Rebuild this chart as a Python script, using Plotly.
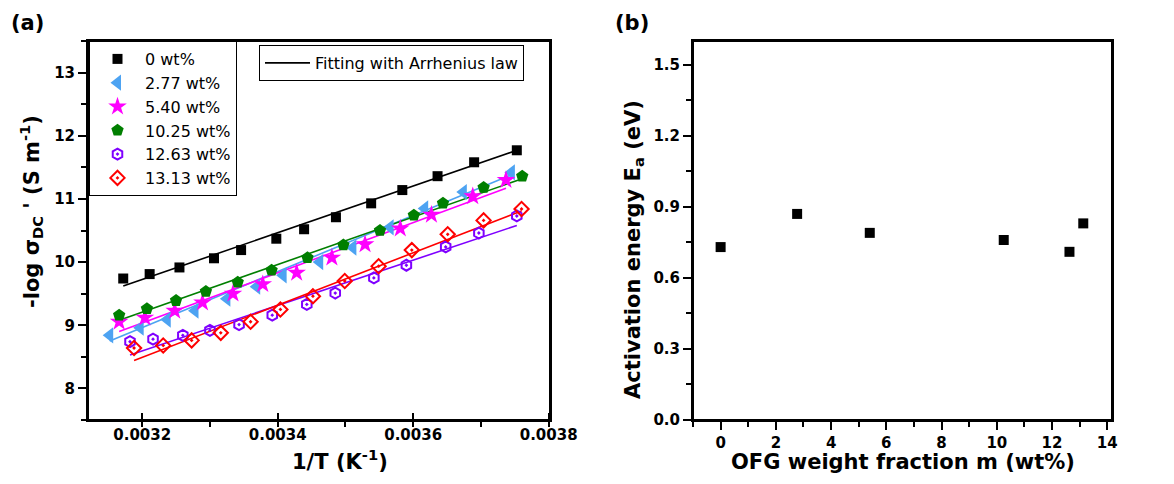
import plotly.graph_objects as go

# ---------------- data: panel (a) ----------------
labels = ["0 wt%", "2.77 wt%", "5.40 wt%", "10.25 wt%", "12.63 wt%", "13.13 wt%"]

invT_0 = [0.003172, 0.003211, 0.003255, 0.003306, 0.003346, 0.003398, 0.003439,
          0.003486, 0.003538, 0.003584, 0.003636, 0.003690, 0.003753]
sig_0 = [9.74, 9.81, 9.915, 10.06, 10.19, 10.37, 10.52, 10.71, 10.93, 11.14, 11.36, 11.58, 11.77]

invT_277 = [0.003152, 0.003197, 0.003237, 0.003278, 0.003325, 0.003369, 0.003408,
            0.003462, 0.003511, 0.003566, 0.003617, 0.003674, 0.003745]
sig_277 = [8.84, 8.96, 9.09, 9.23, 9.42, 9.61, 9.79, 10.0, 10.23, 10.55, 10.85, 11.11, 11.42]

invT_540 = [0.003166, 0.003204, 0.003248, 0.003289, 0.003334, 0.003378, 0.003428,
            0.003480, 0.003529, 0.003581, 0.003627, 0.003688, 0.003737]
sig_540 = [9.055, 9.12, 9.23, 9.36, 9.50, 9.65, 9.83, 10.07, 10.28, 10.53, 10.75, 11.04, 11.30]

invT_1025 = [0.003166, 0.003207, 0.003250, 0.003294, 0.003341, 0.003391, 0.003444,
             0.003497, 0.003551, 0.003601, 0.003644, 0.003704, 0.003761]
sig_1025 = [9.16, 9.26, 9.39, 9.535, 9.68, 9.87, 10.07, 10.27, 10.50, 10.74, 10.93, 11.18, 11.36]

invT_1263 = [0.003182, 0.003216, 0.003260, 0.003300, 0.003343, 0.003392, 0.003443,
             0.003485, 0.003542, 0.003590, 0.003648, 0.003697, 0.003753]
sig_1263 = [8.74, 8.78, 8.84, 8.92, 9.01, 9.16, 9.33, 9.51, 9.75, 9.95, 10.24, 10.46, 10.73]

invT_1313 = [0.003188, 0.003231, 0.003273, 0.003316, 0.003360, 0.003404, 0.003452,
             0.003499, 0.003549, 0.003598, 0.003651, 0.003704, 0.003760]
sig_1313 = [8.64, 8.68, 8.76, 8.88, 9.055, 9.25, 9.46, 9.70, 9.935, 10.19, 10.44, 10.66, 10.84]

# Arrhenius fit lines (start / end points)
fit_x_start = [0.003172, 0.003152, 0.003166, 0.003166, 0.003182, 0.003188]
fit_x_end = [0.003753, 0.003745, 0.003737, 0.003761, 0.003753, 0.003760]
fit_y_start = [9.62, 8.75, 8.90, 9.08, 8.53, 8.44]
fit_y_end = [11.77, 11.38, 11.17, 11.32, 10.58, 10.81]

# ---------------- data: panel (b) ----------------
m_wt = [0, 2.77, 5.40, 10.25, 12.63, 13.13]
Ea = [0.73, 0.87, 0.79, 0.76, 0.71, 0.83]

# ---------------- styling ----------------
FONT = "DejaVu Sans, Liberation Sans, Arial, sans-serif"
colors = ["#000000", "#4da3f2", "#ff00ff", "#007f00", "#7f00ff", "#ff0000"]
symbols = ["square", "triangle-left", "star", "pentagon", "hexagon-open-dot", "diamond-open-dot"]
sizes = [10, 14, 14, 13, 11, 11]

xs = [invT_0, invT_277, invT_540, invT_1025, invT_1263, invT_1313]
ys = [sig_0, sig_277, sig_540, sig_1025, sig_1263, sig_1313]

# The page body has an 8px default margin: size the figure so the page fits the window
OFF = 8
W, H = 1174 - 2 * OFF, 484 - 2 * OFF


def px(x):  # window x pixel -> paper fraction
    return (x - OFF) / W


def py(y):  # window y pixel -> paper fraction
    return 1 - (y - OFF) / H


fig = go.Figure()

# fit lines (one shared legend entry)
for i in range(6):
    fig.add_trace(go.Scatter(
        x=[fit_x_start[i], fit_x_end[i]], y=[fit_y_start[i], fit_y_end[i]],
        mode="lines", line=dict(color=colors[i], width=1.6),
        name="Fitting with Arrhenius law", legend="legend2",
        showlegend=(i == 0), xaxis="x", yaxis="y"))

# data points
for i in range(6):
    is_open = "open" in symbols[i]
    fig.add_trace(go.Scatter(
        x=xs[i], y=ys[i], mode="markers", name=labels[i],
        marker=dict(symbol=symbols[i], size=sizes[i], color=colors[i],
                    line=dict(color=colors[i], width=2 if is_open else 0)),
        legend="legend", xaxis="x", yaxis="y"))

# panel (b)
fig.add_trace(go.Scatter(
    x=m_wt, y=Ea, mode="markers", showlegend=False,
    marker=dict(symbol="square", size=10, color="black"),
    xaxis="x2", yaxis="y2"))

ax_common = dict(showline=True, linecolor="black", linewidth=2, mirror=True,
                 showgrid=False, zeroline=False, tickcolor="black", tickwidth=1.6,
                 automargin=False,
                 tickfont=dict(family=FONT, size=15, color="black", weight="bold"))

fig.update_layout(
    template="none",
    width=W, height=H, margin=dict(l=0, r=0, t=0, b=0, autoexpand=False),
    plot_bgcolor="white", paper_bgcolor="white",
    font=dict(family=FONT, color="black"),
    xaxis=dict(domain=[px(88), px(550)], range=[0.00312, 0.003802],
               tick0=0.0032, dtick=0.0002, tickformat=".4f",
               ticks="inside", ticklen=7,
               minor=dict(ticks="outside", ticklen=5, dtick=0.0001, tick0=0.0032,
                          tickcolor="black", tickwidth=1.6),
               anchor="y", **ax_common),
    yaxis=dict(domain=[py(420), py(41)], range=[7.5, 13.5],
               tick0=8, dtick=1, ticks="outside", ticklen=8,
               minor=dict(ticks="outside", ticklen=5, dtick=0.5, tick0=8,
                          tickcolor="black", tickwidth=1.6),
               anchor="x", **ax_common),
    xaxis2=dict(domain=[px(693), px(1112)], range=[-1, 14.17],
                tick0=0, dtick=2, ticks="outside", ticklen=8,
                minor=dict(ticks="outside", ticklen=5, dtick=1, tick0=-1,
                           tickcolor="black", tickwidth=1.6),
                anchor="y2", **ax_common),
    yaxis2=dict(domain=[py(420), py(41)], range=[0, 1.6],
                tick0=0, dtick=0.3, tickformat=".1f", ticks="outside", ticklen=8,
                minor=dict(ticks="outside", ticklen=5, dtick=0.15, tick0=0,
                           tickcolor="black", tickwidth=1.6),
                anchor="x2", **ax_common),
    legend=dict(x=px(89), y=py(41), xanchor="left", yanchor="top",
                bgcolor="white", bordercolor="black", borderwidth=1,
                font=dict(family=FONT, size=16, color="black"),
                itemwidth=45, tracegroupgap=0),
    legend2=dict(x=px(259), y=py(45), xanchor="left", yanchor="top",
                 bgcolor="white", bordercolor="black", borderwidth=1,
                 font=dict(family=FONT, size=16, color="black"),
                 itemwidth=45),
)

# plot frames
fig.update_layout(shapes=[
    dict(type="rect", xref="x domain", yref="y domain", x0=0, x1=1, y0=0, y1=1,
         line=dict(color="black", width=2), layer="above"),
    dict(type="rect", xref="x2 domain", yref="y2 domain", x0=0, x1=1, y0=0, y1=1,
         line=dict(color="black", width=2), layer="above"),
])

ann_font = dict(family=FONT, size=21, color="black", weight="bold")
annotations = [
    dict(text="(a)", x=px(9), y=py(23), xanchor="left", yanchor="middle"),
    dict(text="(b)", x=px(613), y=py(23), xanchor="left", yanchor="middle"),
    dict(text="-log σ<sub>DC</sub> ' (S m<sup>-1</sup>)", x=px(31), y=py(212),
         textangle=-90, xanchor="center", yanchor="middle"),
    dict(text="1/T (K<sup>-1</sup>)", x=px(340), y=0,
         xanchor="center", yanchor="bottom"),
    dict(text="Activation energy E<sub>a</sub> (eV)", x=px(634), y=py(250),
         textangle=-90, xanchor="center", yanchor="middle"),
    dict(text="OFG weight fraction m (wt%)", x=px(903), y=0,
         xanchor="center", yanchor="bottom"),
]
for a in annotations:
    a.update(xref="paper", yref="paper", showarrow=False, font=ann_font)
fig.update_layout(annotations=annotations)

fig.write_html("out.html")
